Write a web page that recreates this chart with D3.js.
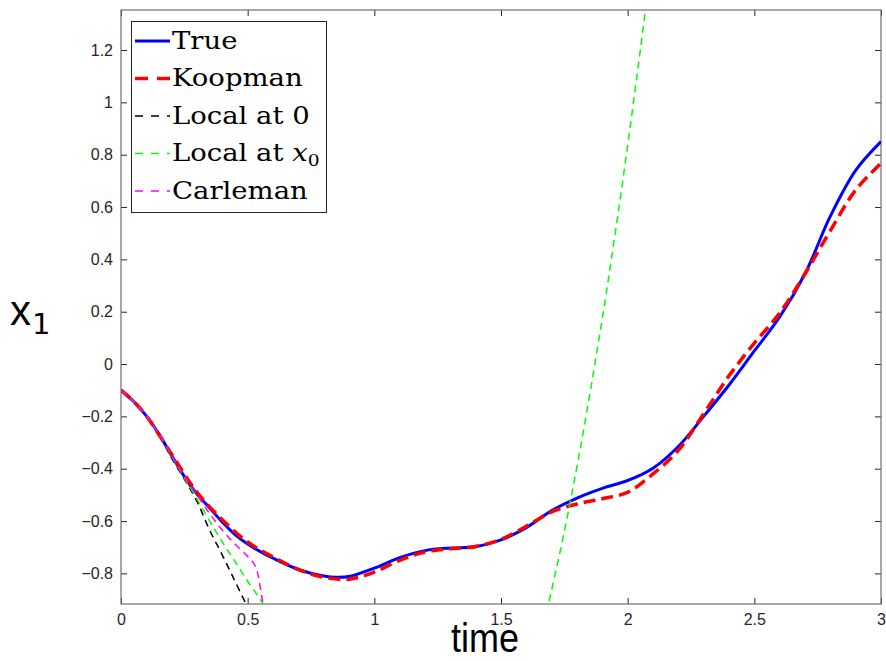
<!DOCTYPE html>
<html>
<head>
<meta charset="utf-8">
<script src="https://cdn.jsdelivr.net/npm/d3@7"></script>
<style>
  body { margin: 0; background: #fff; }
  .tick-label { font-family: "Liberation Sans", Arial, sans-serif; font-size: 16px; fill: #262626; }
  .legend-text { font-family: "DejaVu Serif", "Liberation Serif", serif; font-size: 25px; fill: #000; }
</style>
</head>
<body>
<div id="chart"></div>
<script>
// values
const trueT = [0, 0.05, 0.1, 0.15, 0.2, 0.25, 0.3, 0.35, 0.4, 0.45, 0.5, 0.55, 0.6, 0.7, 0.8, 0.85, 0.9, 1.0, 1.1, 1.2, 1.3, 1.4, 1.5, 1.6, 1.7, 1.8, 1.9, 2.0, 2.1, 2.2, 2.3, 2.4, 2.5, 2.6, 2.7, 2.8, 2.9, 3.0];
const trueV = [-0.1, -0.143, -0.198, -0.268, -0.35, -0.43, -0.497, -0.55, -0.604, -0.652, -0.688, -0.717, -0.742, -0.785, -0.81, -0.815, -0.812, -0.78, -0.74, -0.713, -0.703, -0.698, -0.672, -0.625, -0.56, -0.512, -0.475, -0.445, -0.398, -0.315, -0.2, -0.08, 0.05, 0.18, 0.345, 0.565, 0.74, 0.85];

const koopT = [0, 0.05, 0.1, 0.2, 0.3, 0.4, 0.5, 0.6, 0.7, 0.8, 0.9, 1.0, 1.1, 1.2, 1.3, 1.4, 1.5, 1.6, 1.7, 1.8, 1.9, 2.0, 2.1, 2.2, 2.3, 2.4, 2.5, 2.6, 2.7, 2.8, 2.9, 3.0];
const koopV = [-0.1, -0.143, -0.198, -0.345, -0.49, -0.595, -0.68, -0.737, -0.785, -0.815, -0.822, -0.795, -0.75, -0.718, -0.706, -0.697, -0.67, -0.62, -0.565, -0.535, -0.515, -0.49, -0.42, -0.33, -0.19, -0.045, 0.08, 0.195, 0.345, 0.51, 0.665, 0.767];

const local0T = [0, 0.05, 0.1, 0.15, 0.2, 0.25, 0.3, 0.35, 0.4, 0.45, 0.5];
const local0V = [-0.1, -0.143, -0.198, -0.268, -0.36, -0.44, -0.525, -0.635, -0.73, -0.83, -0.93];

const localX0T = [0, 0.05, 0.1, 0.15, 0.2, 0.25, 0.3, 0.35, 0.4, 0.45, 0.5, 0.55, 0.58];
const localX0V = [-0.1, -0.143, -0.198, -0.268, -0.352, -0.435, -0.515, -0.6, -0.68, -0.755, -0.83, -0.9, -0.945];
const localX0LateT = [1.68, 1.75, 1.8, 1.85, 1.9, 1.95, 2.0, 2.05, 2.1];
const localX0LateV = [-0.95, -0.64, -0.391, -0.119, 0.176, 0.494, 0.836, 1.2, 1.587];

const carleT = [0, 0.05, 0.1, 0.15, 0.2, 0.25, 0.3, 0.35, 0.4, 0.45, 0.5, 0.53, 0.55, 0.565];
const carleV = [-0.1, -0.143, -0.198, -0.268, -0.35, -0.43, -0.5, -0.572, -0.635, -0.688, -0.735, -0.772, -0.855, -0.95];

const xTicks = [0, 0.5, 1, 1.5, 2, 2.5, 3];
const yTicks = [-0.8, -0.6, -0.4, -0.2, 0, 0.2, 0.4, 0.6, 0.8, 1, 1.2];

const width = 886, height = 661;
const plot = {left: 121, right: 881, top: 10, bottom: 604};

const svg = d3.select('#chart').append('svg')
    .attr('width', width)
    .attr('height', height);

const x = d3.scaleLinear().domain([0, 3]).range([plot.left, plot.right]);
const y = d3.scaleLinear().domain([-0.917, 1.353]).range([plot.bottom, plot.top]);

svg.append('defs').append('clipPath').attr('id', 'clip')
  .append('rect')
    .attr('x', plot.left).attr('y', plot.top)
    .attr('width', plot.right - plot.left).attr('height', plot.bottom - plot.top);

// axes, ticks pointing in, mirrored on top and right
const tl = 6;
const xAxisB = d3.axisBottom(x).tickValues(xTicks).tickSize(-tl).tickFormat(d3.format('~g'));
const xAxisT = d3.axisTop(x).tickValues(xTicks).tickSize(-tl).tickFormat('');
const yAxisL = d3.axisLeft(y).tickValues(yTicks).tickSize(-tl).tickFormat(d3.format('~g'));
const yAxisR = d3.axisRight(y).tickValues(yTicks).tickSize(-tl).tickFormat('');

function styleAxis(g) {
  g.select('.domain').remove();
  g.selectAll('.tick line').attr('stroke', '#262626').attr('stroke-width', 1);
  g.selectAll('.tick text').attr('class', 'tick-label').attr('font-size', null).attr('font-family', null);
}

svg.append('g').attr('transform', `translate(0,${plot.bottom})`).call(xAxisB).call(styleAxis)
  .selectAll('.tick text').attr('dy', null).attr('y', 21);
svg.append('g').attr('transform', `translate(0,${plot.top})`).call(xAxisT).call(styleAxis);
svg.append('g').attr('transform', `translate(${plot.left},0)`).call(yAxisL).call(styleAxis)
  .selectAll('.tick text').attr('x', -8);
svg.append('g').attr('transform', `translate(${plot.right},0)`).call(yAxisR).call(styleAxis);

svg.append('rect')
    .attr('x', plot.left).attr('y', plot.top)
    .attr('width', plot.right - plot.left).attr('height', plot.bottom - plot.top)
    .attr('fill', 'none')
    .attr('stroke', '#6e6e6e')
    .attr('stroke-width', 1.2);

// curves
const line = d3.line()
    .x(d => x(d[0]))
    .y(d => y(d[1]))
    .curve(d3.curveCatmullRom.alpha(0.5));

const zip = (t, v) => t.map((d, i) => [d, v[i]]);

const series = [
  {name: 'True', data: zip(trueT, trueV), color: '#0000ff', width: 3, dash: null},
  {name: 'Koopman', data: zip(koopT, koopV), color: '#ff0000', width: 3.5, dash: '12,6'},
  {name: 'Local at 0', data: zip(local0T, local0V), color: '#000000', width: 1.5, dash: '7,5'},
  {name: 'Local at x0', data: zip(localX0T, localX0V), color: '#00ff00', width: 1.5, dash: '7,5'},
  {name: 'Local at x0 late', data: zip(localX0LateT, localX0LateV), color: '#00ff00', width: 1.5, dash: '7,5'},
  {name: 'Carleman', data: zip(carleT, carleV), color: '#ff00ff', width: 1.5, dash: '7,5'}
];

const curves = svg.append('g').attr('clip-path', 'url(#clip)');
series.forEach(s => {
  curves.append('path')
      .datum(s.data)
      .attr('d', line)
      .attr('fill', 'none')
      .attr('stroke', s.color)
      .attr('stroke-width', s.width)
      .attr('stroke-dasharray', s.dash);
});

// legend
const leg = svg.append('g');
leg.append('rect')
    .attr('x', 131.5).attr('y', 21.5)
    .attr('width', 195).attr('height', 191)
    .attr('fill', '#fff')
    .attr('stroke', '#262626')
    .attr('stroke-width', 1);

const legItems = series.filter(s => s.name !== 'Local at x0 late');
legItems.forEach((s, i) => {
  const by = 49 + i * 37.5;
  leg.append('line')
      .attr('x1', 135).attr('x2', 170)
      .attr('y1', by - 8).attr('y2', by - 8)
      .attr('stroke', s.color)
      .attr('stroke-width', s.width)
      .attr('stroke-dasharray', s.name === 'Koopman' ? '13,9' : s.dash ? '8,8' : null);
  const txt = leg.append('text')
      .attr('class', 'legend-text')
      .attr('x', 172).attr('y', by)
      .attr('transform', 'translate(172,0) scale(1.1,1) translate(-172,0)');
  if (s.name === 'Local at x0') {
    txt.append('tspan').text('Local at ');
    txt.append('tspan').attr('font-style', 'italic').text('x');
    txt.append('tspan').attr('font-size', 17).attr('dy', 5).text('0');
  } else {
    txt.text(s.name);
  }
});

// axis titles
svg.append('text')
    .attr('x', 485).attr('y', 652)
    .attr('text-anchor', 'middle')
    .attr('font-family', '"Liberation Sans", Arial, sans-serif')
    .attr('font-size', 40)
    .attr('fill', '#000')
    .attr('transform', 'translate(485,0) scale(0.9,1) translate(-485,0)')
    .text('time');

const yl = svg.append('text')
    .attr('x', 10).attr('y', 325)
    .attr('font-family', '"Liberation Sans", Arial, sans-serif')
    .attr('font-size', 42)
    .attr('fill', '#000');
yl.append('tspan').text('x');
yl.append('tspan').attr('font-family', '"DejaVu Sans", sans-serif').attr('font-size', 29).attr('dx', 1).attr('dy', 9).text('1');
</script>
</body>
</html>
